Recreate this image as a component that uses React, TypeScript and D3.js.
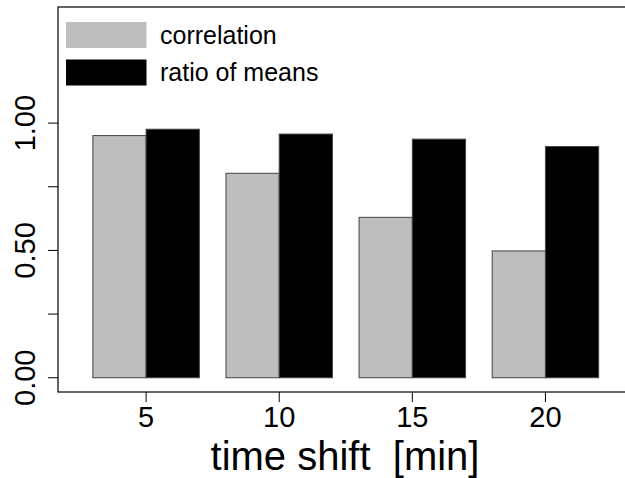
import React from 'react'
import * as d3 from 'd3'

// time shifts on the x axis
const shifts = ['5', '10', '15', '20']
const correlation = [0.951, 0.803, 0.63, 0.498]
const ratioOfMeans = [0.976, 0.957, 0.937, 0.908]
const seriesNames = ['correlation', 'ratio of means']
const seriesColors = ['#bebebe', '#000000']
const yTicks = [0, 0.25, 0.5, 0.75, 1]
const yLabels = ['0.00', '0.50', '1.00']

const W = 625
const H = 478
const plot = { left: 58, top: 7, right: 632, bottom: 392 }
const font = '"Liberation Sans", Arial, Helvetica, sans-serif'

export default function App() {
  // barplot units: bar width 1, gap 0.5 between groups
  const x = d3.scaleLinear().domain([-0.155, 10.626]).range([plot.left, plot.right])
  const y = d3.scaleLinear().domain([-0.056, 1.456]).range([plot.bottom, plot.top])
  const series = [correlation, ratioOfMeans]

  const bars = []
  shifts.forEach((s, g) => {
    series.forEach((vals, b) => {
      const x0 = 0.5 + 2.5 * g + b
      bars.push({ key: `${s}-${b}`, x0, v: vals[g], color: seriesColors[b] })
    })
  })

  return (
    <svg
      width={W}
      height={H}
      style={{ position: 'absolute', left: 0, top: 0, background: '#fff', fontFamily: font }}
    >
      {bars.map((d) => (
        <rect
          key={d.key}
          x={x(d.x0)}
          y={y(d.v)}
          width={x(d.x0 + 1) - x(d.x0)}
          height={y(0) - y(d.v)}
          fill={d.color}
          stroke="#444"
          strokeWidth={1}
        />
      ))}
      {/* plot box */}
      <rect
        x={plot.left}
        y={plot.top}
        width={700}
        height={plot.bottom - plot.top}
        fill="none"
        stroke="#000"
        strokeWidth={1.2}
      />
      {/* y axis */}
      {yTicks.map((t) => (
        <line key={t} x1={plot.left - 10} x2={plot.left} y1={y(t)} y2={y(t)} stroke="#000" strokeWidth={1} />
      ))}
      {yLabels.map((l) => (
        <text
          key={l}
          transform={`translate(35,${y(+l)}) rotate(-90)`}
          textAnchor="middle"
          fontSize={29}
          fill="#000"
        >
          {l}
        </text>
      ))}
      {/* x axis */}
      {shifts.map((s, g) => {
        const cx = x(1.5 + 2.5 * g)
        return (
          <g key={s}>
            <line x1={cx} x2={cx} y1={plot.bottom} y2={plot.bottom + 10} stroke="#000" strokeWidth={1} />
            <text x={cx} y={426.5} textAnchor="middle" fontSize={29} fill="#000">
              {s}
            </text>
          </g>
        )
      })}
      <text
        x={(plot.left + plot.right) / 2}
        y={469.5}
        textAnchor="middle"
        fontSize={40}
        fill="#000"
        style={{ whiteSpace: 'pre' }}
      >
        {'time shift  [min]'}
      </text>
      {/* legend */}
      {seriesNames.map((n, i) => (
        <g key={n}>
          <rect x={66} y={22 + i * 37.5} width={80.5} height={26} fill={seriesColors[i]} />
          <text x={160} y={44 + i * 37} fontSize={25} fill="#000">
            {n}
          </text>
        </g>
      ))}
    </svg>
  )
}
